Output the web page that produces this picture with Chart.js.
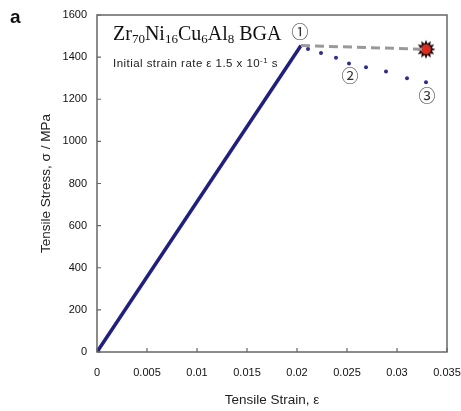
<!DOCTYPE html>
<html>
<head>
<meta charset="utf-8">
<script src="https://cdn.jsdelivr.net/npm/chart.js@4"></script>
<style>
  html, body { margin: 0; padding: 0; background: #fff; }
  #wrap { position: relative; width: 461px; height: 411px; }
  #chart { position: absolute; left: 0; top: 0; }
  .panel { position: absolute; left: 10px; top: 6px; font: bold 19px "Liberation Sans", Arial, sans-serif; color: #111; }
  .alloy { position: absolute; left: 113px; top: 22px; font: 20px "Liberation Serif", "Times New Roman", serif; color: #111; white-space: nowrap; }
  .alloy sub { font-size: 13px; position: relative; top: 3px; vertical-align: baseline; }
  .rate { position: absolute; left: 113px; top: 57px; font: 11.5px "Liberation Sans", Arial, sans-serif; letter-spacing: 0.45px; color: #222; white-space: nowrap; }
  .rate sup { font-size: 8px; position: relative; top: -4px; vertical-align: baseline; }
</style>
</head>
<body>
<div id="wrap">
  <canvas id="chart" width="461" height="411"></canvas>
  <div class="panel">a</div>
  <div class="alloy">Zr<sub>70</sub>Ni<sub>16</sub>Cu<sub>6</sub>Al<sub>8</sub> BGA</div>
  <div class="rate">Initial strain rate ε 1.5 x 10<sup>-1</sup> s</div>
</div>
<script>
// elastic loading line
const loadStrain = [0, 0.0204];
const loadStress = [0, 1455];
// serrated / dotted softening points
const dotStrain = [0.0211, 0.0224, 0.0239, 0.0252, 0.0269, 0.0289, 0.0310, 0.0329];
const dotStress = [1438, 1419, 1397, 1370, 1352, 1332, 1300, 1281];
// dashed plateau to fracture
const dashStrain = [0.0204, 0.0329];
const dashStress = [1455, 1437];
const fractureStrain = [0.0329];
const fractureStress = [1437];
// circled markers
const markLabels = ['①', '②', '③'];
const markStrain = [0.0203, 0.0253, 0.0330];
const markStress = [1522, 1312, 1218];

const xTicks = [0, 0.005, 0.01, 0.015, 0.02, 0.025, 0.03, 0.035];
const yTicks = [0, 200, 400, 600, 800, 1000, 1200, 1400, 1600];

const toPoints = (xs, ys) => xs.map((x, i) => ({ x, y: ys[i] }));

function makeStar() {
  const c = document.createElement('canvas');
  c.width = 22;
  c.height = 22;
  const g = c.getContext('2d');
  g.beginPath();
  const spikes = 12;
  for (let i = 0; i < spikes * 2; i++) {
    const r = i % 2 === 0 ? 9.5 : 6;
    const a = (Math.PI * i) / spikes;
    g.lineTo(11 + r * Math.cos(a), 11 + r * Math.sin(a));
  }
  g.closePath();
  g.fillStyle = '#1a1010';
  g.fill();
  g.beginPath();
  g.arc(11, 11, 5, 0, Math.PI * 2);
  g.fillStyle = '#e02a1e';
  g.fill();
  return c;
}

const tickFont = { family: '"Liberation Sans", Arial, sans-serif', size: 11 };
const titleFont = { family: '"Liberation Sans", Arial, sans-serif', size: 13.5 };

const framePlugin = {
  id: 'frame',
  afterDraw(chart) {
    const { ctx, chartArea: a, scales } = chart;
    ctx.save();
    ctx.strokeStyle = '#666';
    ctx.lineWidth = 1.5;
    ctx.strokeRect(a.left, a.top, a.right - a.left, a.bottom - a.top);
    ctx.lineWidth = 1.2;
    ctx.beginPath();
    xTicks.forEach((v) => {
      const px = scales.x.getPixelForValue(v);
      ctx.moveTo(px, a.bottom);
      ctx.lineTo(px, a.bottom - 4);
    });
    yTicks.forEach((v) => {
      const py = scales.y.getPixelForValue(v);
      ctx.moveTo(a.left, py);
      ctx.lineTo(a.left + 4, py);
    });
    ctx.stroke();
    ctx.restore();
  },
};

const markPlugin = {
  id: 'marks',
  afterDatasetsDraw(chart) {
    const { ctx, scales } = chart;
    ctx.save();
    ctx.fillStyle = '#333';
    ctx.font = '17px "Noto Sans CJK JP", "DejaVu Sans", sans-serif';
    ctx.textAlign = 'center';
    ctx.textBaseline = 'middle';
    markLabels.forEach((t, i) => {
      ctx.fillText(t, scales.x.getPixelForValue(markStrain[i]), scales.y.getPixelForValue(markStress[i]));
    });
    ctx.restore();
  },
};

new Chart(document.getElementById('chart'), {
  type: 'scatter',
  data: {
    datasets: [
      {
        data: toPoints(dashStrain, dashStress),
        showLine: true,
        borderColor: '#9a9a9a',
        borderWidth: 3,
        borderDash: [9, 5],
        pointRadius: 0,
      },
      {
        data: toPoints(loadStrain, loadStress),
        showLine: true,
        borderColor: '#1d1d8c',
        borderWidth: 3.5,
        pointRadius: [3, 0],
        pointBackgroundColor: '#1d1d8c',
        pointBorderWidth: 0,
      },
      {
        data: toPoints(dotStrain, dotStress),
        showLine: false,
        pointRadius: 2,
        pointBackgroundColor: '#2a2aa8',
        pointBorderWidth: 0,
      },
      {
        data: toPoints(fractureStrain, fractureStress),
        showLine: false,
        pointStyle: makeStar(),
        pointRadius: 11,
      },
    ],
  },
  options: {
    responsive: false,
    animation: false,
    layout: { padding: { left: 0, top: 15, right: 14, bottom: 0 } },
    plugins: { legend: { display: false }, tooltip: { enabled: false } },
    scales: {
      x: {
        type: 'linear',
        min: 0,
        max: 0.035,
        afterBuildTicks: (s) => { s.ticks = xTicks.map((value) => ({ value })); },
        afterFit: (s) => { s.height = 59; s.paddingLeft = 0; s.paddingRight = 0; },
        ticks: { callback: (v) => String(v), font: tickFont, color: '#111', padding: 14, maxRotation: 0, autoSkip: false },
        grid: { display: false, drawTicks: false },
        border: { display: false },
        title: {
          display: true,
          text: 'Tensile Strain, ε',
          font: titleFont,
          color: '#222',
          padding: { top: 0, bottom: 3 },
        },
      },
      y: {
        type: 'linear',
        min: 0,
        max: 1600,
        afterBuildTicks: (s) => { s.ticks = yTicks.map((value) => ({ value })); },
        afterFit: (s) => { s.width = 97; s.paddingTop = 0; s.paddingBottom = 0; },
        ticks: { callback: (v) => String(v), font: tickFont, color: '#111', padding: 10 },
        grid: { display: false, drawTicks: false },
        border: { display: false },
        title: {
          display: true,
          text: 'Tensile Stress, σ / MPa',
          font: titleFont,
          color: '#222',
          padding: { top: 38, bottom: 0 },
        },
      },
    },
  },
  plugins: [framePlugin, markPlugin],
});
</script>
</body>
</html>
